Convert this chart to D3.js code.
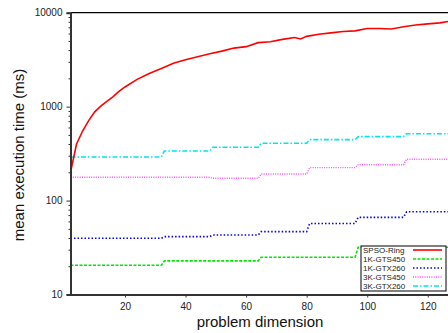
<!DOCTYPE html>
<html>
<head>
<meta charset="utf-8">
<script src="https://cdn.jsdelivr.net/npm/d3@7"></script>
<style>
  body { margin: 0; background: #fff; }
  svg { display: block; font-family: "Liberation Sans", Arial, sans-serif; }
  .axis path, .axis line { stroke: #333; }
  .axis text { fill: #222; font-size: 10px; }
</style>
</head>
<body>
<svg width="448" height="333"></svg>
<script>
// SPSO-Ring (sampled dimensions and mean time in ms)
const spsoDims = [2, 4, 6, 8, 10, 12, 14, 16, 18, 20, 24, 28, 32, 36, 40, 44, 48, 52, 56, 60,
    64, 68, 72, 76, 78, 80, 84, 88, 92, 96, 100, 104, 108, 112, 116, 120, 124, 128];
const spsoTimes = [200, 400, 550, 710, 880, 1010, 1140, 1270, 1450, 1620, 1950, 2250, 2550, 2900, 3150, 3400, 3650, 3900, 4200, 4350,
    4800, 4900, 5200, 5450, 5250, 5600, 5900, 6100, 6300, 6400, 6800, 6800, 6700, 7100, 7400, 7600, 7800, 8200];

// GPU versions are flat within each block of dimensions
const blockStart = [2, 33, 49, 65, 81, 97, 113];
const blockEnd = [32, 48, 64, 80, 96, 112, 128];
const gts450_1k = [20.5, 22.8, 22.8, 24.9, 24.9, 31.8, 31.8];
const gtx260_1k = [39.7, 41.3, 43, 46.7, 57, 66.3, 76];
const gts450_3k = [177, 177, 173, 192, 224, 241, 275];
const gtx260_3k = [291, 337, 370, 408, 445, 479, 515];

const names = ["SPSO-Ring", "1K-GTS450", "1K-GTX260", "3K-GTS450", "3K-GTX260"];
const xTicks = [20, 40, 60, 80, 100, 120];
const yTicks = [10, 100, 1000, 10000];

const blocks = vals => blockStart.flatMap((s, i) => [
    {dim: s, t: vals[i]}, {dim: blockEnd[i], t: vals[i]}
]);

const series = [
    {name: names[0], color: "#ff0000", dash: null, w: 1.6, values: spsoDims.map((d, i) => ({dim: d, t: spsoTimes[i]}))},
    {name: names[1], color: "#00e600", dash: "3,1.5", w: 1.6, values: blocks(gts450_1k)},
    {name: names[2], color: "#0000ff", dash: "1.5,2", w: 1.6, values: blocks(gtx260_1k)},
    {name: names[3], color: "#ff4dff", dash: "1,1.3", w: 1.4, values: blocks(gts450_3k)},
    {name: names[4], color: "#00e5ee", dash: "5,2,1.5,2", w: 1.6, values: blocks(gtx260_3k)}
];

var svg = d3.select("svg");

var x = d3.scaleLinear().domain([2, 128]).range([70.5, 452]);
var y = d3.scaleLog().domain([10, 10000]).range([294.5, 12.7]);

svg.append("defs").append("clipPath").attr("id", "plot")
    .append("rect").attr("x", 70.5).attr("y", 12.7)
    .attr("width", 452 - 70.5).attr("height", 294.5 - 12.7);

// top border
svg.append("line")
    .attr("x1", 70.5).attr("x2", 452)
    .attr("y1", 12.7).attr("y2", 12.7)
    .attr("stroke", "#000").attr("stroke-width", 1.2);

var line = d3.line()
    .x(d => x(d.dim))
    .y(d => y(d.t));

svg.append("g")
    .attr("clip-path", "url(#plot)")
    .selectAll("path")
    .data(series.slice().reverse()).enter()
    .append("path")
    .attr("d", d => line(d.values))
    .attr("fill", "none")
    .attr("stroke", d => d.color)
    .attr("stroke-width", d => d.w)
    .attr("stroke-dasharray", d => d.dash);

// minor ticks on the log axis
var minor = [];
[10, 100, 1000].forEach(dec => {
    for (let k = 2; k <= 9; k++) minor.push(dec * k);
});
svg.append("g")
    .attr("class", "axis")
    .attr("transform", "translate(70.5,0)")
    .call(d3.axisLeft(y).tickValues(minor).tickSize(2).tickFormat(""))
    .call(g => g.select(".domain").remove());

svg.append("g")
    .attr("class", "axis")
    .attr("transform", "translate(70.5,0)")
    .call(d3.axisLeft(y).tickValues(yTicks).tickSize(4).tickPadding(4).tickFormat(d3.format("d")))
    .call(g => g.select(".domain").attr("stroke-width", 2));

svg.append("g")
    .attr("class", "axis")
    .attr("transform", "translate(0,294.5)")
    .call(d3.axisBottom(x).tickValues(xTicks).tickSize(3).tickPadding(5).tickSizeOuter(0))
    .call(g => g.select(".domain").attr("stroke-width", 2));

svg.append("text")
    .attr("transform", "translate(24,155) rotate(-90)")
    .attr("text-anchor", "middle")
    .attr("font-size", 15)
    .attr("fill", "#111")
    .text("mean execution time (ms)");

svg.append("text")
    .attr("x", 260).attr("y", 327)
    .attr("text-anchor", "middle")
    .attr("font-size", 15)
    .attr("fill", "#111")
    .text("problem dimension");

// legend
var legend = svg.append("g");
legend.append("rect")
    .attr("x", 361).attr("y", 246)
    .attr("width", 85).attr("height", 45)
    .attr("fill", "#fff").attr("stroke", "#000").attr("stroke-width", 1);

var rows = legend.selectAll("g.row")
    .data(series).enter()
    .append("g")
    .attr("transform", (d, i) => "translate(0," + (250 + i * 9) + ")");

rows.append("text")
    .attr("x", 363).attr("dy", "0.35em")
    .attr("font-size", 8)
    .attr("fill", "#222")
    .text(d => d.name);

rows.append("line")
    .attr("x1", 413).attr("x2", 442)
    .attr("stroke", d => d.color)
    .attr("stroke-width", d => d.w)
    .attr("stroke-dasharray", d => d.dash);
</script>
</body>
</html>
